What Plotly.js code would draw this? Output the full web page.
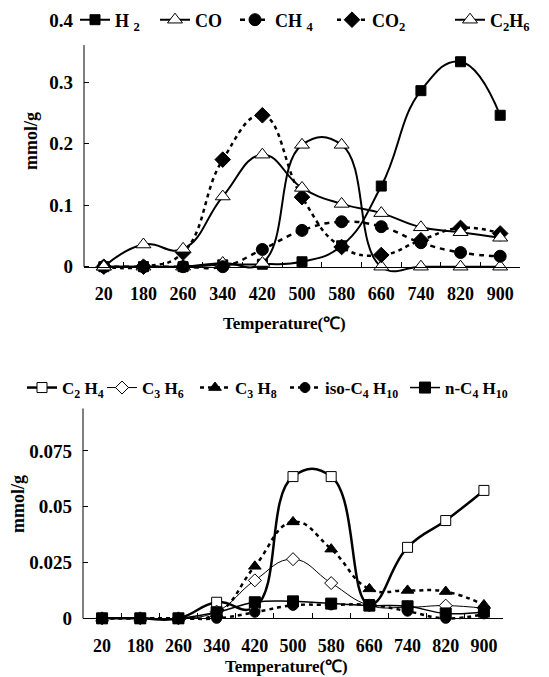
<!DOCTYPE html>
<html>
<head>
<meta charset="utf-8">
<script src="https://cdn.plot.ly/plotly-3.0.1.min.js"></script>
<style>html,body{margin:0;padding:0;background:#fff;}#chart{width:549px;height:677px;}</style>
</head>
<body>
<div id="chart"></div>
<script>
// Temperature categories (°C)
var temps = ['20','180','260','340','420','500','580','660','740','820','900'];

// Top panel: gas products (mmol/g)
var h2   = [0, 0, 0, 0.003, 0.004, 0.008, 0.034, 0.131, 0.286, 0.333, 0.246];
var co   = [0, 0, 0, 0.006, 0.006, 0.198, 0.198, 0, 0, 0, 0];
var ch4  = [0, 0, 0, 0, 0.028, 0.059, 0.073, 0.065, 0.039, 0.023, 0.017];
var co2  = [0, 0, 0.023, 0.174, 0.246, 0.113, 0.032, 0.019, 0.043, 0.063, 0.054];
var c2h6 = [0, 0.036, 0.029, 0.114, 0.182, 0.128, 0.102, 0.087, 0.064, 0.056, 0.047];

// Bottom panel: hydrocarbons (mmol/g)
var c2h4  = [0, 0, 0, 0.0072, 0.005, 0.0635, 0.0635, 0.0062, 0.0318, 0.0438, 0.0573];
var c3h6  = [0, 0, 0, 0.003, 0.017, 0.0265, 0.0158, 0.0058, 0.005, 0.0057, 0.0045];
var c3h8  = [0, 0, 0, 0.002, 0.0233, 0.0432, 0.031, 0.0132, 0.0125, 0.012, 0.006];
var isoC4 = [0, 0, 0, 0, 0.0027, 0.0058, 0.006, 0.006, 0.0032, 0, 0.002];
var nC4   = [0, 0, 0, 0.0027, 0.0072, 0.0076, 0.0066, 0.0057, 0.0054, 0.0022, 0.003];

var topTicks = [0, 0.1, 0.2, 0.3, 0.4];
var topTickText = ['0', '0.1', '0.2', '0.3', '0.4'];
var botTicks = [0, 0.025, 0.05, 0.075];
var botTickText = ['0', '0.025', '0.05', '0.075'];

var FONT = "'Liberation Serif', 'Times New Roman', serif";
var W = 549, H = 677;
function px(v){return v/W;}
function py(v){return 1 - v/H;}

function tr(name, y, xa, ya, leg, sym, size, fill, dash, lw){
  return {
    x: temps, y: y, name: name, xaxis: xa, yaxis: ya, legend: leg,
    type: 'scatter', mode: 'lines+markers', cliponaxis: false,
    line: {color: 'black', width: lw, shape: 'spline', smoothing: 1.3, dash: dash},
    marker: {symbol: sym, size: size, color: fill, line: {color: 'black', width: 1}}
  };
}

var data = [
  tr('H <sub>2</sub>', h2, 'x', 'y', 'legend', 'square', 10, 'black', 'solid', 2),
  tr('CO', co, 'x', 'y', 'legend2', 'triangle-up', 13, 'white', 'solid', 2),
  tr('CH <sub>4</sub>', ch4, 'x', 'y', 'legend3', 'circle', 12, 'black', '5px,5px', 2.5),
  tr('CO<sub>2</sub>', co2, 'x', 'y', 'legend4', 'diamond', 12, 'black', '4px,4px', 2.5),
  tr('C<sub>2</sub>H<sub>6</sub>', c2h6, 'x', 'y', 'legend5', 'triangle-up', 13, 'white', 'solid', 2),

  tr('C<sub>2</sub> H<sub>4</sub>', c2h4, 'x2', 'y2', 'legend6', 'square', 10, 'white', 'solid', 2.5),
  tr('C<sub>3</sub> H<sub>6</sub>', c3h6, 'x2', 'y2', 'legend7', 'diamond', 10, 'white', 'solid', 1),
  tr('C<sub>3</sub> H<sub>8</sub>', c3h8, 'x2', 'y2', 'legend8', 'triangle-up', 11, 'black', '4px,4px', 2.5),
  tr('iso-C<sub>4</sub> H<sub>10</sub>', isoC4, 'x2', 'y2', 'legend9', 'circle', 10, 'black', '4px,4px', 2.5),
  tr('n-C<sub>4</sub> H<sub>10</sub>', nC4, 'x2', 'y2', 'legend10', 'square', 11, 'black', 'solid', 1.5)
];

var xTickFont = {family: FONT, size: 18, color: 'black', weight: 'bold'};
var yTickFont = {family: FONT, size: 19, color: 'black', weight: 'bold'};

var xCommon = {
  type: 'category', range: [-0.5, 10.5], fixedrange: true,
  showline: true, linecolor: 'black', linewidth: 1, mirror: false,
  ticks: 'inside', tickson: 'boundaries', ticklen: 5, tickcolor: 'black', tickwidth: 1,
  showgrid: false, zeroline: false, tickfont: xTickFont, ticklabelstandoff: 11
};

function leg(xText, yc, size){
  return {
    orientation: 'h', x: px(xText - 40), xanchor: 'left', y: py(yc), yanchor: 'middle',
    bgcolor: 'rgba(0,0,0,0)', borderwidth: 0,
    font: {family: FONT, size: size, color: 'black', weight: 'bold'},
    itemwidth: 30
  };
}

var layout = {
  width: W, height: H,
  margin: {l: 0, r: 0, t: 0, b: 0},
  paper_bgcolor: 'white', plot_bgcolor: 'rgba(0,0,0,0)',
  showlegend: true,
  font: {family: FONT, color: 'black'},
  xaxis: Object.assign({}, xCommon, {domain: [px(84), px(520)], anchor: 'free', position: py(266.7)}),
  yaxis: {
    domain: [py(279), py(20.5)], range: [-0.02, 0.4], anchor: 'x',
    showline: false, showgrid: false, zeroline: false,
    tickvals: topTicks, ticktext: topTickText,
    ticks: 'inside', ticklen: 5, tickcolor: 'black', tickwidth: 1,
    tickfont: yTickFont, ticklabelstandoff: 10
  },
  xaxis2: Object.assign({}, xCommon, {domain: [px(83), px(503)], anchor: 'free', position: py(618.3)}),
  yaxis2: {
    domain: [py(629.5), py(395.1)], range: [-0.005, 0.1], anchor: 'x2',
    showline: false, showgrid: false, zeroline: false,
    tickvals: botTicks, ticktext: botTickText,
    ticks: 'inside', ticklen: 5, tickcolor: 'black', tickwidth: 1,
    tickfont: yTickFont, ticklabelstandoff: 10
  },
  legend: leg(115, 20, 18),
  legend2: leg(195, 20, 18),
  legend3: leg(275, 20, 18),
  legend4: leg(372, 20, 18),
  legend5: leg(490, 20, 18),
  legend6: leg(62, 388, 17),
  legend7: leg(142, 388, 17),
  legend8: leg(235, 388, 17),
  legend9: leg(325, 388, 17),
  legend10: leg(445, 388, 17),
  shapes: [
    {type: 'line', xref: 'x domain', yref: 'y', x0: 0, x1: 0, y0: 0, y1: 0.36, line: {color: 'black', width: 1}},
    {type: 'line', xref: 'x2 domain', yref: 'y2', x0: 0, x1: 0, y0: 0, y1: 0.094, line: {color: 'black', width: 1}}
  ],
  annotations: [
    {text: 'Temperature(℃)', xref: 'paper', yref: 'paper', x: px(284), y: py(323), xanchor: 'center', yanchor: 'middle', showarrow: false, font: {family: FONT, size: 17, color: 'black', weight: 'bold'}},
    {text: 'Temperature(℃)', xref: 'paper', yref: 'paper', x: px(286), y: py(666), xanchor: 'center', yanchor: 'middle', showarrow: false, font: {family: FONT, size: 17, color: 'black', weight: 'bold'}},
    {text: 'mmol/g', xref: 'paper', yref: 'paper', x: px(31), y: py(141), xanchor: 'center', yanchor: 'middle', textangle: -90, showarrow: false, font: {family: FONT, size: 18, color: 'black', weight: 'bold'}},
    {text: 'mmol/g', xref: 'paper', yref: 'paper', x: px(18), y: py(504), xanchor: 'center', yanchor: 'middle', textangle: -90, showarrow: false, font: {family: FONT, size: 18, color: 'black', weight: 'bold'}}
  ]
};

Plotly.newPlot('chart', data, layout, {displayModeBar: false, staticPlot: true});
</script>
</body>
</html>
